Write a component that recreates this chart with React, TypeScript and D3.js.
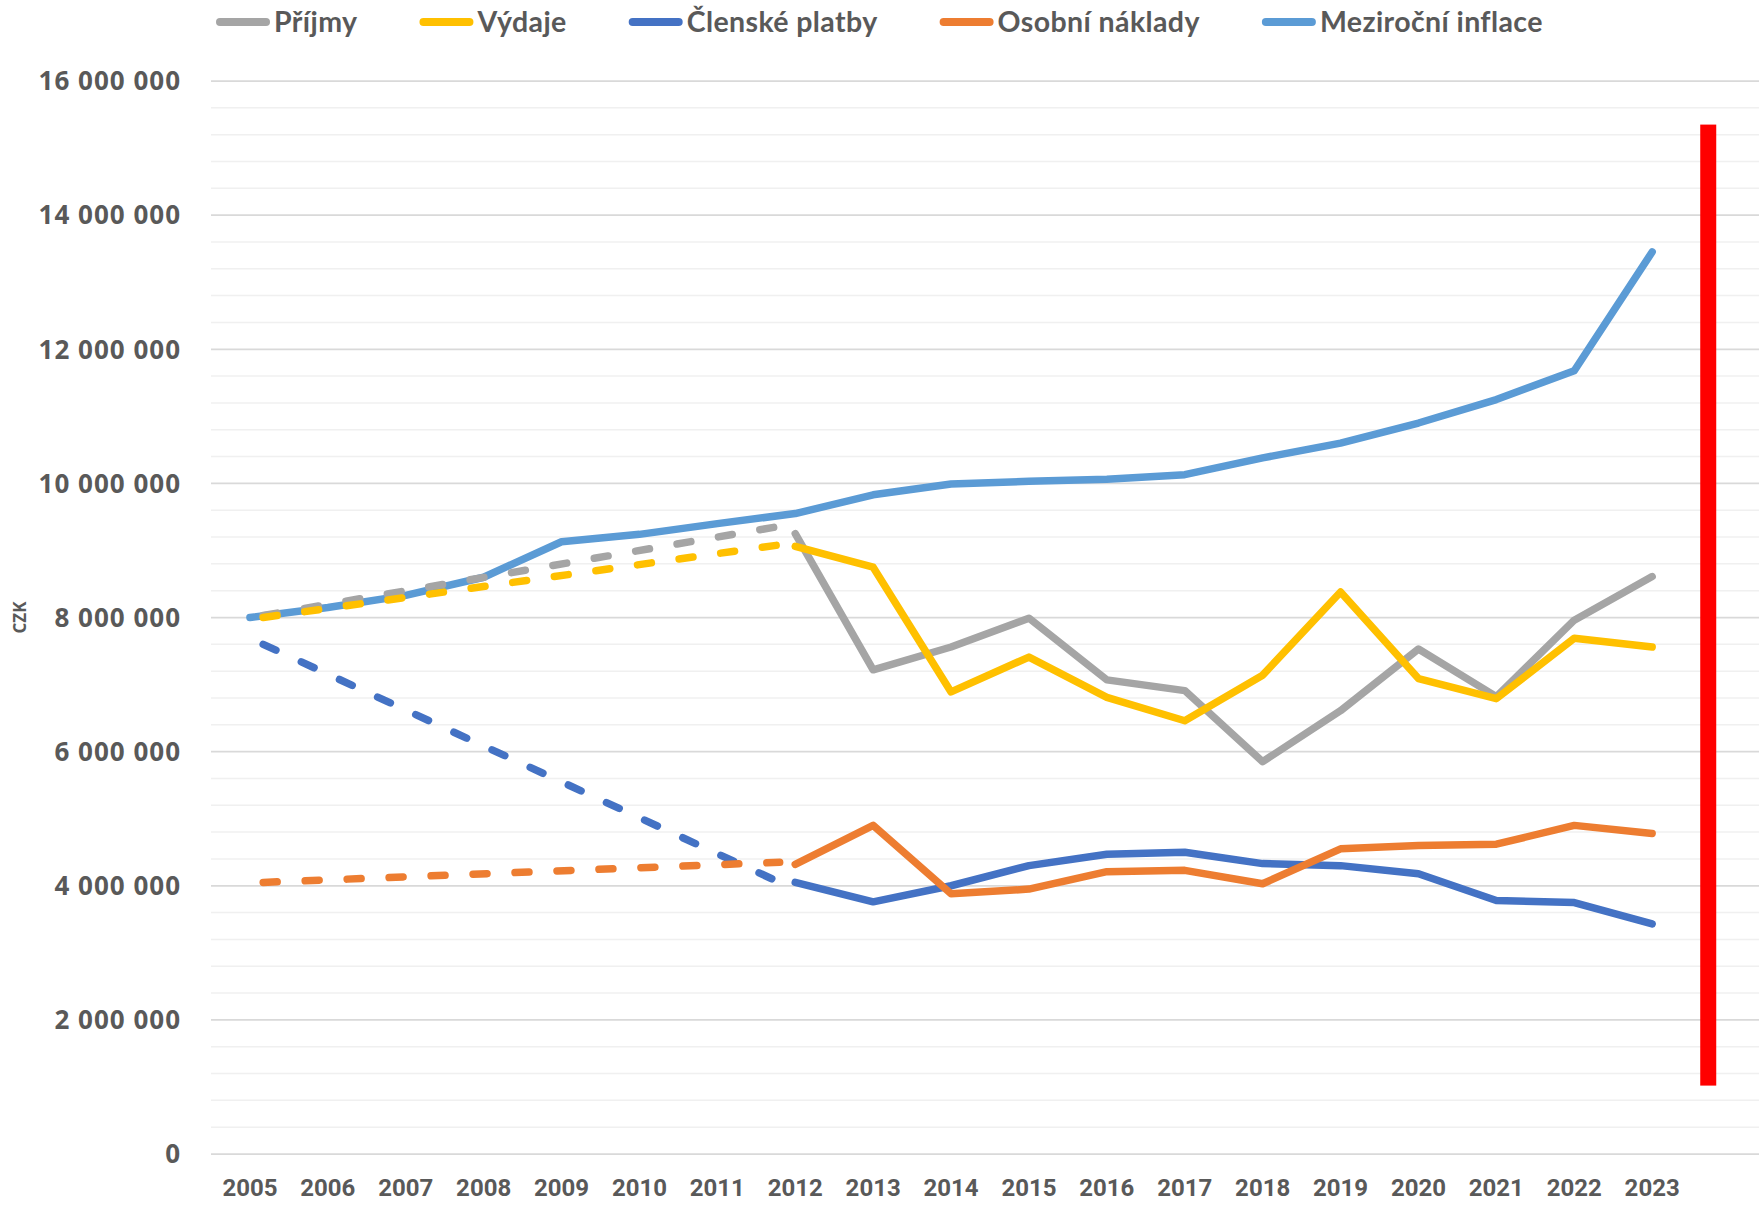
import React, { useRef, useEffect } from "react";
import * as d3 from "d3";

const CHART = {
  width: 1759,
  height: 1205,
  plotLeft: 211,
  plotTop: 81,
  plotBottom: 1154,
  slotWidth: 77.9,
  textColor: "#595959",
  majorGrid: "#D9D9D9",
  minorGrid: "#F0F0F0",
  lineWidth: 7.5,
};

// categories
const inflationYears = [
  2005, 2006, 2007, 2008, 2009, 2010, 2011, 2012, 2013, 2014, 2015, 2016, 2017, 2018, 2019, 2020,
  2021, 2022, 2023,
];
const recentYears = [2012, 2013, 2014, 2015, 2016, 2017, 2018, 2019, 2020, 2021, 2022, 2023];

// series values (CZK)
const inflace = [
  8000000, 8150000, 8330000, 8600000, 9130000, 9240000, 9400000, 9550000, 9830000, 9990000,
  10030000, 10060000, 10130000, 10380000, 10600000, 10900000, 11250000, 11680000, 13450000,
];
const prijmy = [
  9250000, 7220000, 7560000, 7990000, 7070000, 6910000, 5850000, 6610000, 7530000, 6820000,
  7960000, 8610000,
];
const vydaje = [
  9060000, 8750000, 6890000, 7410000, 6810000, 6460000, 7140000, 8380000, 7090000, 6790000,
  7690000, 7560000,
];
const clenske = [
  4050000, 3760000, 4000000, 4300000, 4470000, 4500000, 4330000, 4300000, 4180000, 3780000,
  3750000, 3430000,
];
const osobni = [
  4320000, 4900000, 3880000, 3950000, 4210000, 4230000, 4030000, 4550000, 4600000, 4620000,
  4900000, 4780000,
];

// dashed straight trend segments 2005 -> 2012: [year, value]
const trendPrijmy = [[2005.17, 8030000], [2011.8, 9360000]];
const trendVydaje = [[2005.17, 8000000], [2011.78, 9080000]];
const trendClenske = [[2005.17, 7600000], [2011.8, 4050000]];
const trendOsobni = [[2005.17, 4050000], [2011.8, 4350000]];

// red vertical marker after the last year
const marker = { year: 2023.72, from: 1020000, to: 15350000 };

const yTicks = [0, 2000000, 4000000, 6000000, 8000000, 10000000, 12000000, 14000000, 16000000];
const yMinorStep = 400000;

const SERIES = [
  { name: "Příjmy", color: "#A5A5A5", years: recentYears, values: prijmy, trend: trendPrijmy },
  { name: "Výdaje", color: "#FFC000", years: recentYears, values: vydaje, trend: trendVydaje },
  { name: "Členské platby", color: "#4472C4", years: recentYears, values: clenske, trend: trendClenske },
  { name: "Osobní náklady", color: "#ED7D31", years: recentYears, values: osobni, trend: trendOsobni },
  { name: "Meziroční inflace", color: "#5B9BD5", years: inflationYears, values: inflace, trend: null },
];

const locale = d3.formatLocale({ decimal: ",", thousands: " ", grouping: [3], currency: ["", " Kč"] });
const fmt = locale.format(",d");

export default function App() {
  const ref = useRef<SVGSVGElement | null>(null);

  useEffect(() => {
    const svg = d3.select(ref.current);
    svg.selectAll("*").remove();
    const { width, plotLeft, plotTop, plotBottom, slotWidth } = CHART;

    const x = d3
      .scaleLinear()
      .domain([2004.5, 2024.5])
      .range([plotLeft, plotLeft + 20 * slotWidth]);
    const y = d3.scaleLinear().domain([0, 16000000]).range([plotBottom, plotTop]);

    // gridlines
    const minor = d3.range(0, 16000000 + 1, yMinorStep).filter((v) => v % 2000000 !== 0);
    svg
      .append("g")
      .selectAll("line")
      .data(minor)
      .join("line")
      .attr("x1", plotLeft)
      .attr("x2", width)
      .attr("y1", (d) => y(d))
      .attr("y2", (d) => y(d))
      .attr("stroke", CHART.minorGrid)
      .attr("stroke-width", 1.5);
    svg
      .append("g")
      .selectAll("line")
      .data(yTicks)
      .join("line")
      .attr("x1", plotLeft)
      .attr("x2", width)
      .attr("y1", (d) => y(d))
      .attr("y2", (d) => y(d))
      .attr("stroke", CHART.majorGrid)
      .attr("stroke-width", 1.75);

    // y labels
    svg
      .append("g")
      .selectAll("text")
      .data(yTicks)
      .join("text")
      .attr("x", 181)
      .attr("y", (d) => y(d))
      .attr("dy", "0.36em")
      .attr("text-anchor", "end")
      .attr("font-family", "'Open Sans', sans-serif")
      .attr("font-weight", 700)
      .attr("font-size", 26)
      .attr("letter-spacing", 1)
      .attr("fill", CHART.textColor)
      .text((d) => fmt(d));

    // axis title
    svg
      .append("text")
      .attr("transform", `translate(26,${(plotTop + plotBottom) / 2}) rotate(-90)`)
      .attr("text-anchor", "middle")
      .attr("font-family", "'Open Sans', sans-serif")
      .attr("font-weight", 700)
      .attr("font-size", 17)
      .attr("fill", CHART.textColor)
      .text("CZK");

    // x labels
    svg
      .append("g")
      .selectAll("text")
      .data(inflationYears)
      .join("text")
      .attr("x", (d) => x(d))
      .attr("y", 1196)
      .attr("text-anchor", "middle")
      .attr("font-family", "'Liberation Sans Narrow', 'Roboto', sans-serif")
      .attr("font-weight", 700)
      .attr("font-size", 24)
      .attr("fill", CHART.textColor)
      .text((d) => d);

    const line = d3
      .line<number[]>()
      .x((d) => x(d[0]))
      .y((d) => y(d[1]));

    // solid series
    svg
      .append("g")
      .selectAll("path")
      .data(SERIES)
      .join("path")
      .attr("d", (s) => line(s.years.map((yr, i) => [yr, s.values[i]])))
      .attr("fill", "none")
      .attr("stroke", (s) => s.color)
      .attr("stroke-width", CHART.lineWidth)
      .attr("stroke-linejoin", "round")
      .attr("stroke-linecap", "round");

    // dashed trends
    svg
      .append("g")
      .selectAll("path")
      .data(SERIES.filter((s) => s.trend))
      .join("path")
      .attr("d", (s) => line(s.trend as number[][]))
      .attr("fill", "none")
      .attr("stroke", (s) => s.color)
      .attr("stroke-width", CHART.lineWidth)
      .attr("stroke-linecap", "round")
      .attr("stroke-dasharray", "14 28");

    // red marker
    svg
      .append("rect")
      .attr("x", x(marker.year) - 8)
      .attr("y", y(marker.to))
      .attr("width", 16)
      .attr("height", y(marker.from) - y(marker.to))
      .attr("fill", "#FF0000");

    // legend
    const legend = svg.append("g");
    let cursor = 216;
    SERIES.forEach((s) => {
      legend
        .append("line")
        .attr("x1", cursor + 4)
        .attr("x2", cursor + 50)
        .attr("y1", 22)
        .attr("y2", 22)
        .attr("stroke", s.color)
        .attr("stroke-width", 8)
        .attr("stroke-linecap", "round");
      const t = legend
        .append("text")
        .attr("x", cursor + 58)
        .attr("y", 32)
        .attr("font-family", "Lato, sans-serif")
        .attr("font-weight", 700)
        .attr("font-size", 28.5)
        .attr("letter-spacing", 0.4)
        .attr("fill", CHART.textColor)
        .text(s.name);
      const w = (t.node() as SVGTextElement).getComputedTextLength();
      cursor += 58 + w + 62;
    });
  }, []);

  return (
    <svg
      ref={ref}
      width={CHART.width}
      height={CHART.height}
      style={{ position: "absolute", left: 0, top: 0, background: "#fff" }}
    />
  );
}
